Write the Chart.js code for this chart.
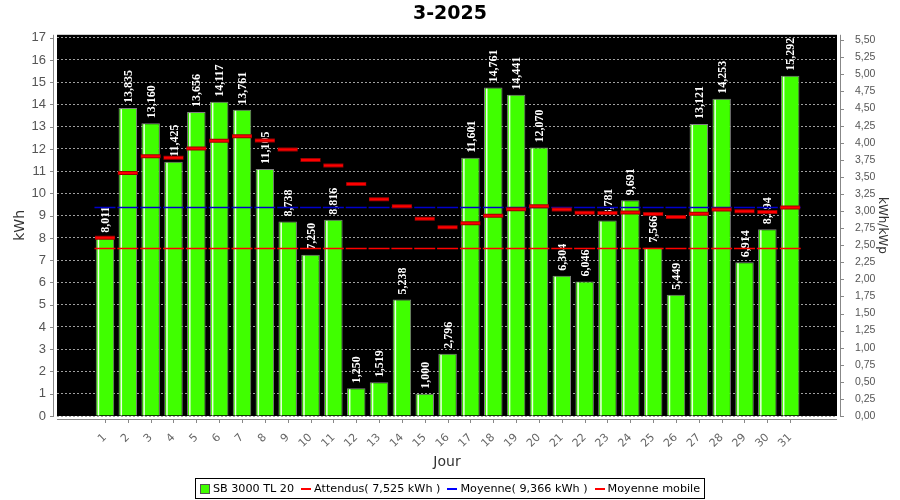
<!DOCTYPE html>
<html>
<head>
<meta charset="utf-8">
<script src="https://cdn.jsdelivr.net/npm/chart.js@4.4.1/dist/chart.umd.min.js"></script>
<style>
  html, body { margin: 0; padding: 0; background: #fff; }
  #wrap { position: relative; width: 900px; height: 500px; }
  #legendRow { position: absolute; left: 0; top: 478px; width: 900px; display: flex; justify-content: center; }
  #legend {
    display: inline-flex; align-items: center; height: 19px; padding: 0 4px;
    border: 1px solid #000; font: 11.2px "DejaVu Sans", sans-serif; color: #000; white-space: pre;
  }
  #legend .item { display: inline-flex; align-items: center; margin-right: 7px; }
  #legend .item:last-child { margin-right: 0; }
  #legend .box { width: 8px; height: 8px; border: 1px solid #555; margin-right: 3px; }
  #legend .ln { width: 10px; height: 2px; margin-right: 3px; }
</style>
</head>
<body>
<div id="wrap">
  <canvas id="chart" width="900" height="500"></canvas>
  <div id="legendRow"><div id="legend"></div></div>
</div>
<script>
// ===== Data =====
const days = [1, 2, 3, 4, 5, 6, 7, 8, 9, 10, 11, 12, 13, 14, 15, 16, 17, 18, 19, 20,
  21, 22, 23, 24, 25, 26, 27, 28, 29, 30, 31];
const production = [8.011, 13.835, 13.160, 11.425, 13.656, 14.117, 13.761, 11.105, 8.738, 7.250,
  8.816, 1.250, 1.519, 5.238, 1.000, 2.796, 11.601, 14.761, 14.441, 12.070,
  6.304, 6.046, 8.781, 9.691, 7.566, 5.449, 13.121, 14.253, 6.914, 8.394, 15.292];
const movingAvg = [8.011, 10.923, 11.669, 11.608, 12.017, 12.367, 12.566, 12.384, 11.979, 11.506,
  11.261, 10.427, 9.742, 9.420, 8.859, 8.480, 8.663, 9.002, 9.288, 9.428,
  9.279, 9.132, 9.117, 9.141, 9.078, 8.938, 9.093, 9.277, 9.196, 9.169, 9.366];
const expected = 7.525;
const average = 9.366;
const kWp = 3.07;
const yMax = 17.13;

const title = '3-2025';
const seriesName = 'SB 3000 TL 20';
const legendItems = [
  { text: seriesName, kind: 'box', color: '#40ff00' },
  { text: 'Attendus( 7,525 kWh )', kind: 'ln', color: '#ff0000' },
  { text: 'Moyenne( 9,366 kWh )', kind: 'ln', color: '#0000ff' },
  { text: 'Moyenne mobile', kind: 'ln', color: '#ff0000' }
];

const fmt = (v, d) => v.toFixed(d).replace('.', ',');

// ===== HTML legend =====
const legendEl = document.getElementById('legend');
legendItems.forEach(it => {
  const span = document.createElement('span');
  span.className = 'item';
  const mark = document.createElement('span');
  mark.className = it.kind;
  mark.style.background = it.color;
  span.appendChild(mark);
  span.appendChild(document.createTextNode(it.text));
  legendEl.appendChild(span);
});

// ===== Plugins =====
const framePlugin = {
  id: 'frame',
  beforeDraw(chart) {
    const { ctx, chartArea: a } = chart;
    ctx.save();
    ctx.fillStyle = '#000';
    ctx.fillRect(a.left, a.top, a.right - a.left, a.bottom - a.top);
    ctx.restore();
  },
  afterDraw(chart) {
    const { ctx, chartArea: a, scales } = chart;
    ctx.save();
    ctx.strokeStyle = '#888';
    ctx.lineWidth = 1;
    ctx.beginPath();
    // axis lines, set off 4px from the plot
    ctx.moveTo(a.left - 3.5, a.top); ctx.lineTo(a.left - 3.5, a.bottom);
    ctx.moveTo(a.right + 3.5, a.top); ctx.lineTo(a.right + 3.5, a.bottom);
    ctx.moveTo(a.left, a.bottom + 3.5); ctx.lineTo(a.right, a.bottom + 3.5);
    // tick marks
    scales.y.ticks.forEach(t => {
      const py = Math.round(scales.y.getPixelForValue(t.value)) + 0.5;
      ctx.moveTo(a.left - 7, py); ctx.lineTo(a.left - 3, py);
    });
    scales.y2.ticks.forEach(t => {
      const py = Math.round(scales.y2.getPixelForValue(t.value)) + 0.5;
      ctx.moveTo(a.right + 3, py); ctx.lineTo(a.right + 7, py);
    });
    scales.x.ticks.forEach(t => {
      const px = Math.round(scales.x.getPixelForValue(t.value)) + 0.5;
      ctx.moveTo(px, a.bottom + 3); ctx.lineTo(px, a.bottom + 7);
    });
    ctx.stroke();
    ctx.restore();
  }
};

const barDecorPlugin = {
  id: 'barDecor',
  afterDatasetDraw(chart, args) {
    if (args.index !== 0) return;
    const { ctx } = chart;
    ctx.save();
    args.meta.data.forEach((el, i) => {
      const { x, y, base, width } = el.getProps(['x', 'y', 'base', 'width'], true);
      const left = x - width / 2;
      // white highlight stripe
      ctx.fillStyle = 'rgba(255,255,255,0.9)';
      ctx.fillRect(left + 2, y + 1, 1.5, base - y - 1);
      // value label
      ctx.save();
      ctx.translate(x, y - 5);
      ctx.rotate(-Math.PI / 2);
      ctx.fillStyle = '#fff';
      ctx.font = 'bold 12px "Liberation Serif", serif';
      ctx.textAlign = 'left';
      ctx.textBaseline = 'middle';
      ctx.fillText(fmt(production[i], 3), 0, 1);
      ctx.restore();
    });
    ctx.restore();
  }
};

// ===== Chart =====
const segment = (data, color, width, radius, order) => ({
  type: 'line',
  data: data,
  showLine: false,
  pointStyle: 'line',
  pointRadius: radius,
  pointHoverRadius: radius,
  pointBorderWidth: width,
  pointHoverBorderWidth: width,
  pointBorderColor: color,
  pointBackgroundColor: color,
  yAxisID: 'y',
  order: order
});

new Chart(document.getElementById('chart'), {
  type: 'bar',
  data: {
    labels: days,
    datasets: [
      {
        label: seriesName,
        data: production,
        backgroundColor: '#40ff00',
        borderColor: '#808080',
        borderWidth: 1,
        barPercentage: 1,
        categoryPercentage: 0.81,
        yAxisID: 'y',
        order: 10
      },
      segment(days.map(() => expected), '#ff0000', 1.5, 10.5, 5),
      segment(days.map(() => average), '#0000cc', 1.5, 10.5, 4),
      segment(movingAvg, '#a00000', 4, 10, 2),
      segment(movingAvg, '#ff0000', 2, 9.5, 1)
    ]
  },
  options: {
    responsive: false,
    animation: false,
    devicePixelRatio: 1,
    layout: { padding: { left: 0, right: 0, top: 0, bottom: 28 } },
    scales: {
      x: {
        type: 'linear',
        offset: false,
        min: -1.1,
        max: 33.05,
        afterBuildTicks: (s) => { s.ticks = days.map(v => ({ value: v })); },
        afterFit: (s) => { s.height = 56; },
        grid: { display: false },
        border: { display: false },
        ticks: {
          autoSkip: false,
          minRotation: 45,
          maxRotation: 45,
          padding: 7,
          color: '#666',
          font: { family: 'DejaVu Sans', size: 11 },
          callback: (v) => String(v)
        },
        title: {
          display: true,
          text: 'Jour',
          color: '#333',
          font: { family: 'DejaVu Sans', size: 14 },
          padding: { top: 0, bottom: 1 }
        }
      },
      y: {
        position: 'left',
        min: 0,
        max: yMax,
        afterFit: (s) => { s.width = 57; },
        grid: { color: '#a0a0a0', lineWidth: 1, drawTicks: false },
        border: { display: false, dash: [2, 2] },
        ticks: {
          stepSize: 1,
          includeBounds: false,
          padding: 11,
          color: '#555',
          font: { family: 'Liberation Sans', size: 13 }
        },
        title: {
          display: true,
          text: 'kWh',
          color: '#333',
          font: { family: 'DejaVu Sans', size: 14 },
          padding: { top: 12, bottom: 0 }
        }
      },
      y2: {
        position: 'right',
        min: 0,
        max: yMax / kWp,
        afterFit: (s) => { s.width = 63; },
        grid: { display: false },
        border: { display: false },
        ticks: {
          stepSize: 0.25,
          includeBounds: false,
          padding: 10,
          color: '#555',
          font: { family: 'Liberation Sans', size: 10.5 },
          callback: (v) => fmt(v, 2)
        },
        title: {
          display: true,
          text: 'kWh/kWp',
          color: '#333',
          font: { family: 'DejaVu Sans', size: 12 },
          padding: { top: 11, bottom: 0 }
        }
      }
    },
    plugins: {
      legend: { display: false },
      tooltip: { enabled: false },
      title: {
        display: true,
        text: title,
        color: '#000',
        font: { family: 'DejaVu Sans', size: 19, weight: 'bold' },
        padding: { top: 3, bottom: 9 }
      }
    }
  },
  plugins: [framePlugin, barDecorPlugin]
});
</script>
</body>
</html>
